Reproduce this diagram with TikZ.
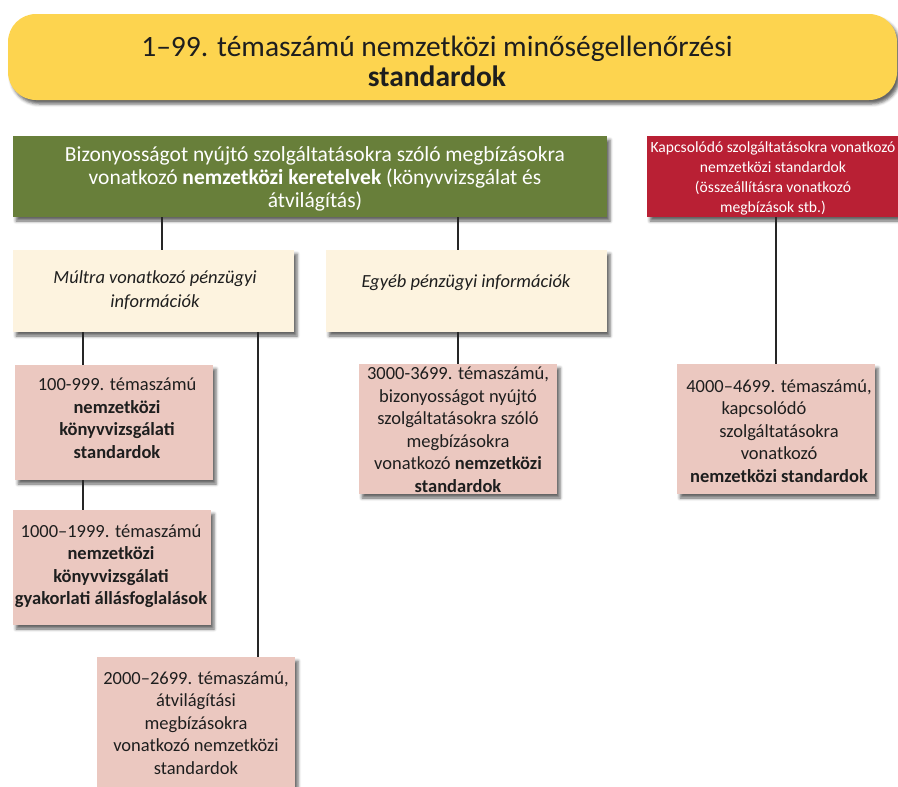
\documentclass[tikz,border=0pt]{standalone}
\usepackage{fontspec}
\setmainfont{Carlito}
\usetikzlibrary{shadows.blur}

\definecolor{titleyellow}{HTML}{FDD44F}
\definecolor{frameworkgreen}{HTML}{687F3A}
\definecolor{relatedred}{HTML}{B92034}
\definecolor{infocream}{HTML}{FDF3DF}
\definecolor{standardpink}{HTML}{EBC8C0}
\definecolor{inktext}{HTML}{1E1E1E}

\begin{document}
\begin{tikzpicture}[x=1pt, y=-1pt,
  panel/.style={rectangle, inner sep=0pt, outer sep=0pt,
    blur shadow={shadow xshift=3pt, shadow yshift=-4pt,
      shadow blur radius=3pt, shadow opacity=60}},
  greenbox/.style={panel, fill=frameworkgreen, minimum height=81pt},
  redbox/.style={panel, fill=relatedred, minimum height=81pt},
  creambox/.style={panel, fill=infocream, minimum width=281pt, minimum height=82pt},
  pinkbox/.style={panel, fill=standardpink, minimum width=198pt},
  label/.style={align=center, inner sep=0pt, text=inktext},
  pinklabel/.style={label, font=\fontsize{18.5pt}{22.5pt}\selectfont},
  conn/.style={draw=black!85, line width=1.1pt}
]
\useasboundingbox (0,0) rectangle (898,787);
\clip (0,0) rectangle (898,787);

% top level: quality control standards
\node[panel, fill=titleyellow, rounded corners=28pt,
  minimum width=889pt, minimum height=86pt] (qc) at (452.5,57) {};
\node[label, font=\fontsize{29.5pt}{30pt}\selectfont] (qct) at (437,61)
  {1–99. témaszámú nemzetközi minőségellenőrzési\\\textbf{standardok}};

% frameworks and related services
\node[greenbox, minimum width=594pt] (fw) at (310,176.5) {};
\node[label, text=white, font=\fontsize{21.5pt}{23pt}\selectfont] (fwt) at (315,179)
  {Bizonyosságot nyújtó szolgáltatásokra szóló megbízásokra\\
   vonatkozó \textbf{nemzetközi keretelvek} (könyvvizsgálat és\\
   átvilágítás)};

\node[redbox, minimum width=256pt] (rs) at (775,176.5) {};
\node[label, text=white, font=\fontsize{15.6pt}{20pt}\selectfont] (rst) at (773,178)
  {Kapcsolódó szolgáltatásokra vonatkozó\\nemzetközi standardok\\
   (összeállításra vonatkozó\\megbízások stb.)};

% kinds of financial information
\node[creambox] (hist) at (153.5,291) {};
\node[label, font=\itshape\fontsize{18.5pt}{23.5pt}\selectfont] (histt) at (155,290)
  {Múltra vonatkozó pénzügyi\\információk};

\node[creambox] (other) at (466.5,291) {};
\node[label, font=\itshape\fontsize{18.5pt}{23.5pt}\selectfont] (othert) at (466,283)
  {Egyéb pénzügyi információk};

% standards
\node[pinkbox, minimum height=115pt] (isa) at (114,422.5) {};
\node[pinklabel] (isat) at (117,418)
  {100-999. témaszámú\\\textbf{nemzetközi}\\\textbf{könyvvizsgálati}\\\textbf{standardok}};

\node[pinkbox, minimum height=115pt] (iapn) at (112,567.5) {};
\node[pinklabel] (iapnt) at (111,566)
  {1000–1999. témaszámú\\\textbf{nemzetközi}\\\textbf{könyvvizsgálati}\\
   \textbf{gyakorlati állásfoglalások}};

\node[pinkbox, minimum height=140pt] (isre) at (196,727) {};
\node[pinklabel] (isret) at (196,723)
  {2000–2699. témaszámú,\\átvilágítási\\megbízásokra\\vonatkozó nemzetközi\\standardok};

\node[pinkbox, minimum height=130pt] (isae) at (458,429) {};
\node[pinklabel] (isaet) at (458,429.5)
  {3000-3699. témaszámú,\\bizonyosságot nyújtó\\szolgáltatásokra szóló\\
   megbízásokra\\vonatkozó \textbf{nemzetközi}\\\textbf{standardok}};

\node[pinkbox, minimum height=130pt] (isrs) at (776,429) {};
\node[pinklabel] (isrst) at (779,431)
  {4000–4699. témaszámú,\\\hspace*{-30pt}kapcsolódó\\szolgáltatásokra\\
   vonatkozó\\\textbf{nemzetközi standardok}};

% connector columns
\coordinate (c1) at (162,0);
\coordinate (c2) at (458,0);
\coordinate (c3) at (776,0);
\coordinate (c4) at (83,0);
\coordinate (c5) at (258,0);

\draw[conn] (fw.south -| c1) -- (hist.north -| c1);
\draw[conn] (fw.south -| c2) -- (other.north -| c2);
\draw[conn] (rs.south -| c3) -- (isrs.north -| c3);
\draw[conn] (hist.south -| c4) -- (isa.north -| c4);
\draw[conn] (isa.south -| c4) -- (iapn.north -| c4);
\draw[conn] (hist.south -| c5) -- (isre.north -| c5);
\draw[conn] (other.south -| c2) -- (isae.north -| c2);
\end{tikzpicture}
\end{document}
